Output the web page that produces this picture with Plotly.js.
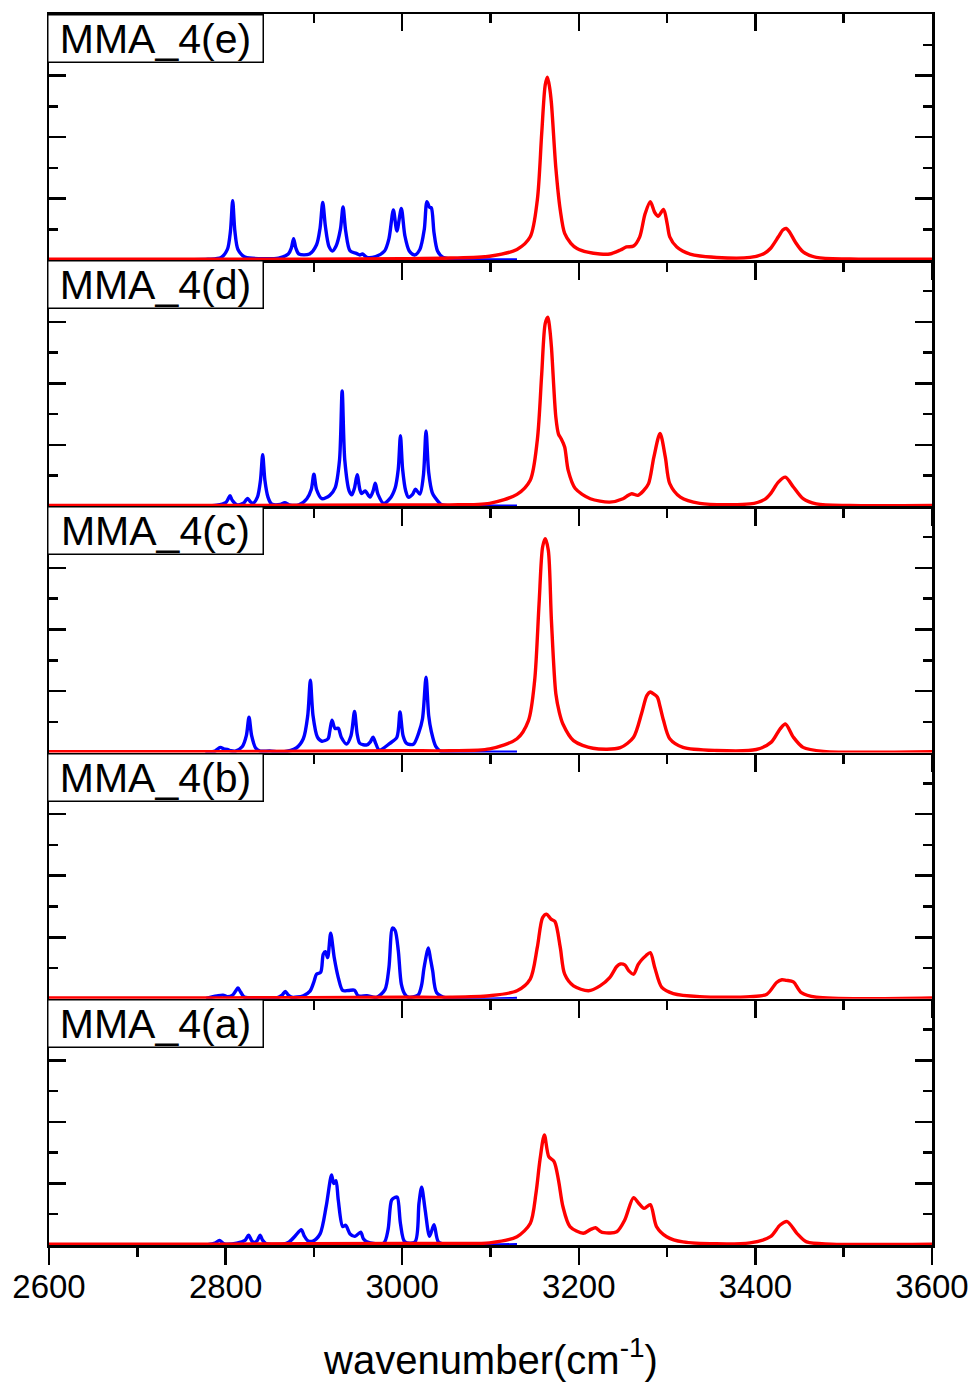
<!DOCTYPE html>
<html>
<head>
<meta charset="utf-8">
<script src="https://cdn.plot.ly/plotly-3.0.1.min.js"></script>
<style>html,body{margin:0;padding:0;background:#fff;}#chart{width:973px;height:1382px;}</style>
</head>
<body>
<div id="chart"></div>
<script>
// ---- data (wavenumber in cm-1, intensity in arbitrary units 0..8 per panel) ----
const panelLabels = ['MMA_4(a)', 'MMA_4(b)', 'MMA_4(c)', 'MMA_4(d)', 'MMA_4(e)'];
const xTickVals = [2600, 2800, 3000, 3200, 3400, 3600];
const xTickText = ['2600', '2800', '3000', '3200', '3400', '3600'];

// Panel (e)
const wnBlueE = [2735,2780,2795,2802,2805.5,2808,2810.5,2814,2822,2840,2860,2871,2874.5,2877,2879.5,2883,2895,2903,2907,2910,2913,2917,2921,2925,2930,2933,2936,2941,2948,2952,2955,2960,2970,2980,2985,2990,2994,2999,3003,3008,3014,3020,3025,3028,3031,3033,3036,3040,3046,3060,3130];
const irBlueE = [0.01,0.03,0.09,0.35,0.95,1.93,0.95,0.35,0.1,0.05,0.07,0.2,0.4,0.7,0.4,0.2,0.2,0.5,1.05,1.88,1.1,0.45,0.3,0.45,1.0,1.73,0.95,0.3,0.22,0.17,0.2,0.09,0.12,0.3,0.7,1.63,0.95,1.68,0.8,0.3,0.17,0.35,1.0,1.9,1.72,1.7,0.9,0.3,0.1,0.03,0.01];
const wnRedE = [2600,2800,3000,3054,3099,3130,3145,3153,3158,3162,3164.5,3167,3169,3174,3179,3184,3191,3198,3210,3224,3235,3247,3254,3262,3269,3275,3281,3286,3290,3296,3300,3303,3311,3326,3356,3394,3410,3417,3426,3431,3435,3439,3445,3454,3469,3507,3600];
const irRedE = [0.03,0.03,0.05,0.07,0.13,0.35,0.76,1.95,4.12,5.7,5.95,5.6,5.1,3.0,1.63,0.87,0.55,0.38,0.26,0.2,0.2,0.33,0.43,0.46,0.76,1.5,1.9,1.55,1.43,1.65,1.2,0.76,0.43,0.2,0.09,0.09,0.22,0.38,0.76,0.98,1.03,0.9,0.6,0.27,0.09,0.04,0.03];

// Panel (d)
const wnBlueD = [2745,2790,2800,2803,2805,2807.5,2813,2820,2823,2825,2828,2831,2836,2839.5,2842,2844.5,2848,2852,2862,2867,2872,2883,2892,2897,2900,2903,2909,2918,2924,2929,2932,2935,2940,2943,2946,2949,2952,2954,2958,2963.5,2967,2969.5,2972.5,2979,2986,2992,2995.5,2998,3000.5,3004,3007,3012,3015,3020,3024,3027,3030,3034,3037,3045,3060,3130];
const irBlueD = [0.01,0.04,0.12,0.25,0.35,0.2,0.05,0.1,0.2,0.26,0.15,0.1,0.3,0.85,1.68,0.85,0.3,0.08,0.06,0.12,0.05,0.05,0.25,0.55,1.05,0.55,0.25,0.36,0.6,1.5,3.75,1.5,0.5,0.38,0.6,1.03,0.55,0.42,0.5,0.3,0.5,0.75,0.4,0.1,0.25,0.6,1.2,2.3,1.2,0.5,0.3,0.4,0.56,0.4,1.0,2.45,1.1,0.45,0.3,0.05,0.02,0.01];
const wnRedD = [2600,2800,3000,3054,3099,3130,3145,3153,3158,3162,3165,3167,3169,3174,3177,3180,3184,3188,3196,3213,3235,3250,3256,3260,3267,3273,3279,3285,3292,3298,3303,3315,3337,3394,3410,3417,3426,3434,3443,3454,3469,3507,3600];
const irRedD = [0.03,0.03,0.05,0.05,0.1,0.39,0.85,2.15,4.3,5.95,6.15,5.8,5.18,2.9,2.35,2.2,1.93,1.17,0.58,0.25,0.14,0.25,0.36,0.41,0.36,0.5,0.74,1.6,2.37,1.6,0.74,0.3,0.1,0.08,0.22,0.41,0.79,0.95,0.63,0.25,0.08,0.03,0.03];

// Panel (c)
const wnBlueC = [2777,2788,2794,2798,2802,2806,2811,2819,2823.5,2826.5,2829.5,2834,2839,2850,2865,2880,2888,2893,2896,2899,2904,2909,2916,2918,2920.5,2924,2927.6,2931,2937,2942,2946,2949,2952,2960,2964,2967,2970,2974,2986,2994,2997.5,3001,3005,3012.6,3018.7,3023,3027,3030,3033,3038,3043,3060,3130];
const irBlueC = [0.01,0.05,0.17,0.12,0.1,0.06,0.05,0.2,0.55,1.15,0.55,0.15,0.05,0.05,0.02,0.15,0.45,1.2,2.35,1.2,0.5,0.37,0.45,0.7,1.05,0.78,0.79,0.5,0.28,0.55,1.34,0.6,0.3,0.25,0.35,0.5,0.3,0.08,0.3,0.5,1.32,0.55,0.3,0.27,0.64,1.1,2.45,1.2,0.68,0.2,0.05,0.02,0.01];
const wnRedC = [2600,2800,3000,3054,3099,3130,3143,3150,3155,3159,3162,3165.5,3169,3174,3178,3182,3194,3216,3247,3262,3271,3277,3281,3285,3289,3292,3296,3303,3318,3356,3401,3418,3428,3434,3443,3454,3477,3600];
const irRedC = [0.03,0.03,0.06,0.06,0.12,0.45,1.04,2.34,4.84,6.68,6.95,6.57,4.29,1.91,1.3,0.93,0.39,0.14,0.16,0.5,1.26,1.85,1.97,1.9,1.8,1.5,1.04,0.45,0.17,0.07,0.1,0.34,0.77,0.93,0.5,0.17,0.04,0.03];

// Panel (b)
const wnBlueB = [2778,2790,2797,2802,2808,2812,2814,2817,2821,2835,2858,2864,2867.6,2871,2875,2888,2895.6,2900,2903,2907.7,2910.6,2913,2915.6,2919,2923,2927.6,2932.6,2939,2946,2950,2960,2971,2980.5,2985,2989,2992,2995.6,2999,3003,3007,3018,3022,3024.7,3029.6,3032,3034.5,3039,3050,3130];
const irBlueB = [0.01,0.09,0.12,0.07,0.12,0.28,0.35,0.22,0.06,0.02,0.03,0.12,0.24,0.12,0.05,0.1,0.25,0.55,0.8,0.86,1.45,1.53,1.34,2.13,1.34,0.69,0.27,0.27,0.28,0.1,0.1,0.05,0.3,1.02,2.3,2.22,1.56,0.48,0.15,0.05,0.12,0.45,1.0,1.65,1.3,0.91,0.2,0.03,0.01];
const wnRedB = [2600,2800,3000,3054,3099,3130,3145,3153,3159,3163.6,3168.5,3173,3179,3184,3194,3211,3224,3235,3243,3247,3252,3257,3262,3267,3271,3276,3281,3286,3294,3307,3337,3394,3413,3424,3430,3435,3443,3452,3469,3600];
const irRedB = [0.03,0.03,0.05,0.05,0.1,0.26,0.64,1.67,2.64,2.75,2.59,2.51,1.67,0.8,0.42,0.26,0.42,0.69,1.05,1.13,1.1,0.9,0.8,1.1,1.26,1.4,1.5,1.02,0.37,0.17,0.07,0.07,0.15,0.53,0.62,0.6,0.55,0.2,0.05,0.03];

// Panel (a)
const wnBlueA = [2780,2788,2793,2797,2800,2812.6,2822,2826,2830,2832.5,2836,2839,2842,2845.7,2865,2872,2879,2885.7,2889,2893,2899,2907,2914,2920,2922.4,2925,2927.6,2932.6,2936,2941,2946.5,2953,2956,2960,2979,2984,2988,2992,2994.5,2998,3003,3014.5,3019,3022,3026,3031,3036,3041,3050,3130];
const irBlueA = [0.01,0.06,0.15,0.06,0.03,0.06,0.15,0.32,0.12,0.08,0.15,0.32,0.15,0.05,0.03,0.1,0.3,0.5,0.3,0.14,0.13,0.36,1.27,2.28,2.0,2.09,1.46,0.6,0.64,0.36,0.28,0.42,0.2,0.1,0.06,0.5,1.46,1.55,1.55,0.7,0.1,0.1,1.36,1.88,1.14,0.28,0.66,0.1,0.02,0.01];
const wnRedA = [2600,2800,3000,3054,3099,3130,3145,3151.5,3156,3161,3166,3172,3177,3182,3190,3205,3213,3219,3224,3228.5,3243,3252,3262,3268,3274,3281,3288,3299.5,3318,3394,3417,3428,3436,3447,3458,3486,3600];
const irRedA = [0.03,0.03,0.05,0.05,0.07,0.27,0.7,1.68,2.76,3.58,2.87,2.71,2.11,1.25,0.6,0.38,0.5,0.56,0.45,0.4,0.43,0.81,1.54,1.35,1.19,1.31,0.6,0.27,0.1,0.07,0.27,0.65,0.76,0.38,0.1,0.03,0.03];

// ---- build the figure ----
const blueX = [wnBlueA, wnBlueB, wnBlueC, wnBlueD, wnBlueE];
const blueY = [irBlueA, irBlueB, irBlueC, irBlueD, irBlueE];
const redX = [wnRedA, wnRedB, wnRedC, wnRedD, wnRedE];
const redY = [irRedA, irRedB, irRedC, irRedD, irRedE];

const FONT = 'Liberation Sans, Arial, Helvetica, sans-serif';
const traces = [];
const layout = {
  width: 973, height: 1382,
  margin: {l: 49, r: 41, t: 14, b: 137, pad: 0},
  paper_bgcolor: '#ffffff', plot_bgcolor: '#ffffff',
  showlegend: false,
  font: {family: FONT, color: '#000000'},
  annotations: []
};

const LW = 2.5;
const CW = 3.4;
for (let i = 0; i < 5; i++) {
  const s = i === 0 ? '' : String(i + 1);
  traces.push({x: blueX[i], y: blueY[i], xaxis: 'x' + s, yaxis: 'y' + s, mode: 'lines',
    line: {color: '#0000ff', width: CW, shape: 'spline', smoothing: 0.8}, hoverinfo: 'skip'});
  traces.push({x: redX[i], y: redY[i], xaxis: 'x' + s, yaxis: 'y' + s, mode: 'lines',
    line: {color: '#ff0000', width: CW, shape: 'spline', smoothing: 0.8}, hoverinfo: 'skip'});

  layout['xaxis' + s] = {
    anchor: 'y' + s, range: [2600, 3600], fixedrange: true,
    tickmode: 'array', tickvals: xTickVals, ticktext: xTickText,
    ticks: 'outside', ticklen: 17, tickwidth: LW, tickcolor: '#000',
    minor: {dtick: 100, tick0: 2600, ticks: 'outside', ticklen: 9, tickwidth: LW, tickcolor: '#000', showgrid: false},
    showline: true, linewidth: LW, linecolor: '#000', mirror: i === 4 ? true : false,
    showgrid: false, zeroline: false, showticklabels: false
  };
  layout['yaxis' + s] = {
    anchor: 'x' + s, domain: [i * 0.2, (i + 1) * 0.2], range: [0, 8], fixedrange: true,
    dtick: 2, tick0: 0, ticks: 'inside', ticklen: 17, tickwidth: LW, tickcolor: '#000',
    minor: {dtick: 1, tick0: 0, ticks: 'inside', ticklen: 9, tickwidth: LW, tickcolor: '#000', showgrid: false},
    showline: true, linewidth: LW, linecolor: '#000', mirror: 'ticks',
    showgrid: false, zeroline: false, showticklabels: false
  };
  layout.annotations.push({
    xref: 'paper', yref: 'paper', x: -2 / 883, y: (i + 1) * 0.2, xanchor: 'left', yanchor: 'top',
    text: panelLabels[i], showarrow: false, font: {size: 41, family: FONT, color: '#000'},
    bgcolor: '#ffffff', bordercolor: '#000000', borderwidth: 1.5, borderpad: 0,
    width: 214, height: 46, align: 'center', valign: 'middle'
  });
}
// inward ticks along the top edge of the top panel
layout.xaxis6 = {
  overlaying: 'x5', anchor: 'y5', side: 'top', range: [2600, 3600], fixedrange: true,
  tickmode: 'array', tickvals: xTickVals, ticks: 'inside', ticklen: 17, tickwidth: LW, tickcolor: '#000',
  minor: {dtick: 100, tick0: 2600, ticks: 'inside', ticklen: 9, tickwidth: LW, tickcolor: '#000', showgrid: false},
  showline: false, showgrid: false, zeroline: false, showticklabels: false
};
// tick labels of the bottom axis (no tick marks, positioned by standoff)
layout.xaxis7 = {
  overlaying: 'x', anchor: 'y', side: 'bottom', range: [2600, 3600], fixedrange: true,
  tickmode: 'array', tickvals: xTickVals, ticktext: xTickText, ticks: '',
  showline: false, showgrid: false, zeroline: false, showticklabels: true,
  ticklabelstandoff: 19, tickfont: {size: 33, family: FONT, color: '#000'}
};
traces.push({x: [], y: [], xaxis: 'x6', yaxis: 'y5', mode: 'lines', hoverinfo: 'skip'});
traces.push({x: [], y: [], xaxis: 'x7', yaxis: 'y', mode: 'lines', hoverinfo: 'skip'});

layout.annotations.push({
  xref: 'paper', yref: 'paper', x: 0.5, y: (1245 - 1357) / 1231, xanchor: 'center', yanchor: 'middle',
  text: 'wavenumber(cm<sup>-1</sup>)', showarrow: false, font: {size: 40, family: FONT, color: '#000'}
});

Plotly.newPlot('chart', traces, layout, {staticPlot: true, displayModeBar: false});
</script>
</body>
</html>
